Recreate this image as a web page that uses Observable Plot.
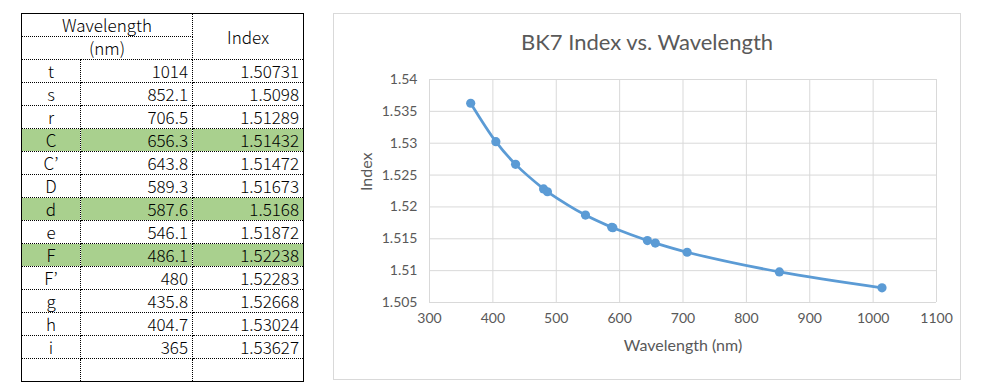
<!DOCTYPE html>
<html>
<head>
<meta charset="utf-8">
<script src="https://cdn.jsdelivr.net/npm/d3@7"></script>
<script src="https://cdn.jsdelivr.net/npm/@observablehq/plot@0.6"></script>
<style>
  html, body { margin: 0; padding: 0; background: #fff; }
  body { width: 982px; height: 392px; position: relative; overflow: hidden; }
  #tbl {
    position: absolute; left: 21px; top: 13px; width: 282px;
    border-collapse: collapse; table-layout: fixed;
    font-family: "Noto Sans CJK JP", sans-serif; font-weight: 300; font-size: 17px; color: #000;
    border: 1px solid #000;
  }
  #tbl td { border: 1px dotted #000; height: 22px; padding: 0 4px; line-height: 22px; overflow: hidden; white-space: nowrap; }
  #tbl td.c { text-align: center; }
  #tbl td.r { text-align: right; }
  #tbl tr.hl td { background: #A9D08E; }
  #chart {
    position: absolute; left: 333px; top: 13px; width: 628px; height: 367px;
    border: 1px solid #d9d9d9; box-sizing: border-box;
  }
  #chart svg { position: absolute; left: 0; top: 0; }
  #title {
    position: absolute; left: 0; right: 0; top: 14px; text-align: center;
    font-family: Lato, sans-serif; font-size: 22px; color: #595959; line-height: 28px;
  }
</style>
</head>
<body>
<table id="tbl"></table>
<div id="chart"><div id="title">BK7 Index vs. Wavelength</div></div>
<script>
const lineNames = ["t", "s", "r", "C", "C’", "D", "d", "e", "F", "F’", "g", "h", "i"];
const wavelengths = [1014, 852.1, 706.5, 656.3, 643.8, 589.3, 587.6, 546.1, 486.1, 480, 435.8, 404.7, 365];
const indices = [1.50731, 1.5098, 1.51289, 1.51432, 1.51472, 1.51673, 1.5168, 1.51872, 1.52238, 1.52283, 1.52668, 1.53024, 1.53627];
const highlighted = ["C", "d", "F"];
const xTicks = [300, 400, 500, 600, 700, 800, 900, 1000, 1100];
const yTicks = [1.505, 1.51, 1.515, 1.52, 1.525, 1.53, 1.535, 1.54];

// Table
const tbl = document.getElementById("tbl");
let html = '<colgroup><col style="width:59px"><col style="width:112px"><col style="width:111px"></colgroup>';
html += '<tr><td class="c" colspan="2">Wavelength</td><td class="c" rowspan="2">Index</td></tr>';
html += '<tr><td class="c" colspan="2">(nm)</td></tr>';
lineNames.forEach((n, i) => {
  html += `<tr class="${highlighted.includes(n) ? "hl" : ""}"><td class="c">${n}</td><td class="r">${wavelengths[i]}</td><td class="r">${indices[i]}</td></tr>`;
});
html += '<tr><td></td><td></td><td></td></tr>';
tbl.innerHTML = html;

// Chart
const data = lineNames.map((n, i) => ({name: n, wl: wavelengths[i], n: indices[i]}))
  .sort((a, b) => a.wl - b.wl);

const plot = Plot.plot({
  width: 626, height: 365,
  marginLeft: 95, marginRight: 24, marginTop: 65, marginBottom: 77,
  x: {domain: [300, 1100]},
  y: {domain: [1.505, 1.54]},
  style: {fontFamily: "Lato, sans-serif", color: "#595959", background: "transparent", fontSize: "14px"},
  marks: [
    Plot.gridX(xTicks, {stroke: "#d9d9d9", strokeOpacity: 1}),
    Plot.gridY(yTicks, {stroke: "#d9d9d9", strokeOpacity: 1}),
    Plot.axisX(xTicks, {tickSize: 0, tickPadding: 11, fontSize: 14, label: null, tickFormat: d => String(d)}),
    Plot.axisY(yTicks, {tickSize: 0, tickPadding: 12, fontSize: 14, label: null, tickFormat: d => String(+d.toFixed(3))}),
    Plot.line(data, {x: "wl", y: "n", curve: "catmull-rom", stroke: "#5B9BD5", strokeWidth: 2.75}),
    Plot.dot(data, {x: "wl", y: "n", r: 4.6, fill: "#5B9BD5"}),
    Plot.text(["Index"], {text: d => d, frameAnchor: "left", dx: -63, rotate: -90, fontSize: 16, fill: "#595959"}),
    Plot.text(["Wavelength (nm)"], {text: d => d, frameAnchor: "bottom", dy: 48, fontSize: 16, fill: "#595959"})
  ]
});
document.getElementById("chart").appendChild(plot);
</script>
</body>
</html>
